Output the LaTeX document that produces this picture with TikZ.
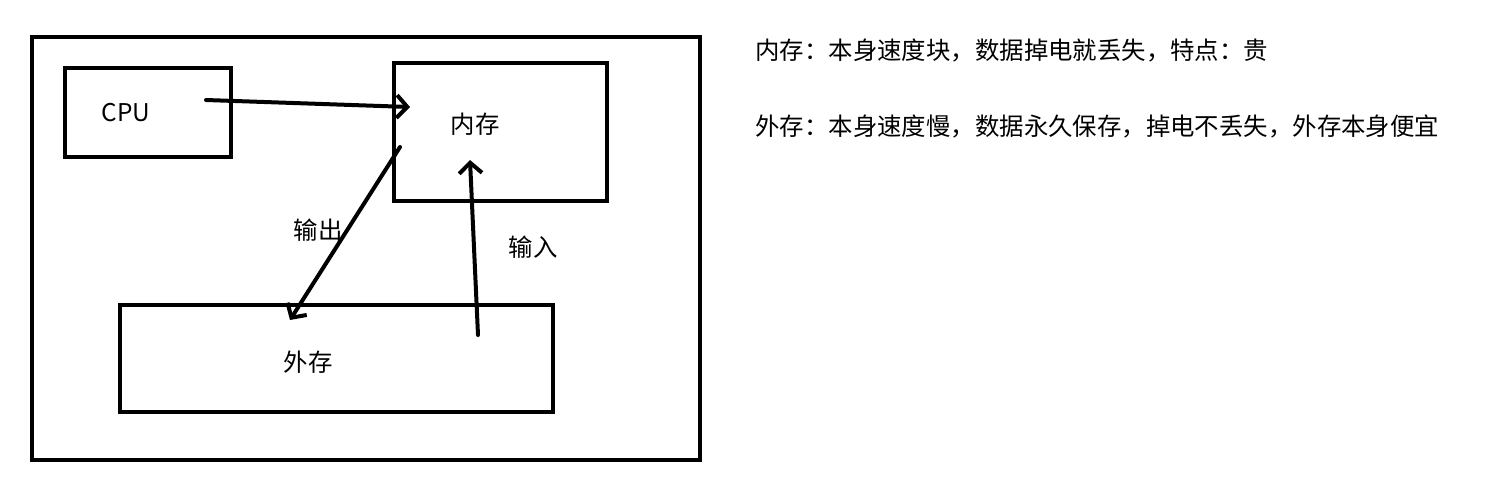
\documentclass[tikz,border=0pt]{standalone}
\usepackage{fontspec}
\setmainfont{Noto Sans CJK SC}
\usetikzlibrary{arrows.meta}

\tikzset{
  box/.style={draw=black, line width=0.08cm},
  flow/.style={draw=black, line width=0.08cm, line cap=round, -{Straight Barb[length=6pt, width=13pt, line width=0.08cm]}},
  lbl/.style={inner sep=0pt, font=\fontsize{13.9pt}{16pt}\selectfont}
}

\begin{document}
\begin{tikzpicture}[x=0.02cm, y=-0.02cm]
    \useasboundingbox (0,0) rectangle (1507,478);

    % draw outer frame and the three boxes
    \draw[box] (32,37) rectangle (700,460);
    \draw[box] (65,68) rectangle (231,157);
    \draw[box] (394,63) rectangle (607,201);
    \draw[box] (120,305) rectangle (553,412);

    % box texts
    \node[lbl] (cpu) at (126,113) {CPU};
    \node[lbl] (ram) at (475,124) {内存};
    \node[lbl] (disk) at (308,362) {外存};

    % arrow ends
    \coordinate (cpuout) at (206,100);
    \coordinate (ramin) at (410,107);
    \coordinate (ramout) at (400,147);
    \coordinate (diskin) at (290,320);
    \coordinate (diskout) at (478,335);
    \coordinate (ramup) at (470,160);

    % draw arrows
    \draw[flow] (cpuout) -- (ramin);
    \draw[flow] (ramout) -- (diskin);
    \draw[flow] (diskout) -- (ramup);

    % arrow labels
    \node[lbl] (outlbl) at (318,230) {输出};
    \node[lbl] (inlbl) at (533,247) {输入};

    % notes on the right
    \node[lbl, anchor=west] (note1) at (755,50) {内存：本身速度块，数据掉电就丢失，特点：贵};
    \node[lbl, anchor=west] (note2) at (755,126) {外存：本身速度慢，数据永久保存，掉电不丢失，外存本身便宜};
\end{tikzpicture}
\end{document}
